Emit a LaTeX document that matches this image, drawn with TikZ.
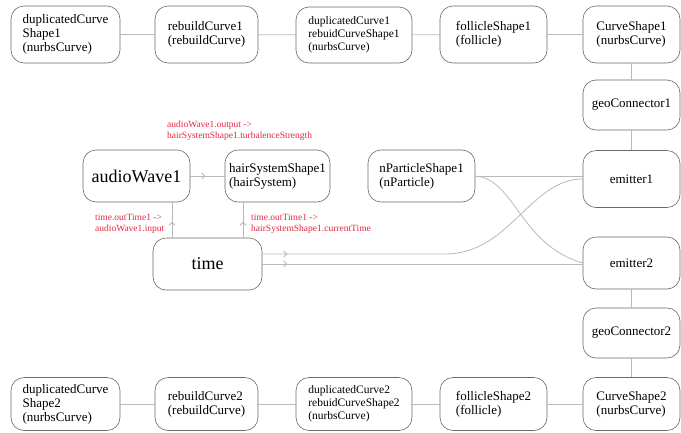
\documentclass[tikz,border=0pt]{standalone}
\usepackage{fontspec}
\setmainfont{Liberation Serif}
\usetikzlibrary{decorations.markings,arrows.meta}
\definecolor{lbl}{RGB}{226,40,62}
\definecolor{edge}{RGB}{185,185,185}
\definecolor{bord}{RGB}{105,105,105}
\tikzset{
  box/.style={draw=bord, line width=0.6pt, rounded corners=13pt, align=left, inner sep=1pt,
    font=\fontsize{13}{14}\selectfont},
  big/.style={font=\fontsize{18}{20}\selectfont},
  lnk/.style={draw=edge, line width=0.8pt},
  midarrow/.style={postaction={decorate,decoration={markings,
      mark=at position #1 with {\arrow[edge]{Straight Barb[length=3pt,width=6pt]}}}}},
  redlbl/.style={text=lbl, align=left, inner sep=0pt, anchor=north west,
    font=\fontsize{9.5}{11}\selectfont}
}
\begin{document}
\begin{tikzpicture}[x=1pt,y=-1pt]
\useasboundingbox (0,0) rectangle (681,432);
% top row
\node[box,minimum width=109pt,minimum height=57pt] (dcs1) at (65.5,34.5) {duplicatedCurve\\Shape1\\(nurbsCurve)};
\node[box,minimum width=103pt,minimum height=57pt] (rc1) at (206.5,34.5) {rebuildCurve1\\(rebuildCurve)};
\node[box,minimum width=116pt,minimum height=56pt,font=\fontsize{11.5}{13}\selectfont] (dc1) at (354,35) {duplicatedCurve1\\rebuidCurveShape1\\(nurbsCurve)};
\node[box,minimum width=107pt,minimum height=57pt] (fs1) at (493.5,34.5) {follicleShape1\\(follicle)};
\node[box,minimum width=97pt,minimum height=57pt] (cs1) at (631.5,34.5) {CurveShape1\\(nurbsCurve)};
% right column
\node[box,minimum width=97pt,minimum height=50pt] (gc1) at (631.5,105) {geoConnector1};
\node[box,minimum width=97pt,minimum height=57pt] (em1) at (631.5,179) {emitter1};
\node[box,minimum width=97pt,minimum height=52pt] (em2) at (631.5,263) {emitter2};
\node[box,minimum width=97pt,minimum height=50pt] (gc2) at (631.5,333) {geoConnector2};
% bottom row
\node[box,minimum width=109pt,minimum height=53pt] (dcs2) at (65.5,404) {duplicatedCurve\\Shape2\\(nurbsCurve)};
\node[box,minimum width=103pt,minimum height=53pt] (rc2) at (206.5,404) {rebuildCurve2\\(rebuildCurve)};
\node[box,minimum width=116pt,minimum height=53pt,font=\fontsize{11.5}{13}\selectfont] (dc2) at (354,404) {duplicatedCurve2\\rebuidCurveShape2\\(nurbsCurve)};
\node[box,minimum width=107pt,minimum height=53pt] (fs2) at (493.5,404) {follicleShape2\\(follicle)};
\node[box,minimum width=97pt,minimum height=53pt] (cs2) at (631.5,404) {CurveShape2\\(nurbsCurve)};
% middle
\node[box,big,minimum width=107pt,minimum height=52pt] (aw) at (136.5,176) {audioWave1};
\node[box,minimum width=105pt,minimum height=52pt] (hs) at (277.5,176) {hairSystemShape1\\(hairSystem)};
\node[box,minimum width=107pt,minimum height=52pt] (np) at (421.5,176) {nParticleShape1\\(nParticle)};
\node[box,big,minimum width=109pt,minimum height=52pt] (tm) at (207.5,264) {time};
% labels
\node[redlbl] (l1) at (167,121) {audioWave1.output ->\\hairSystemShape1.turbalenceStrength};
\node[redlbl] (l2) at (95,214) {time.outTime1 ->\\audioWave1.input};
\node[redlbl] (l3) at (251,214) {time.outTime1 ->\\hairSystemShape1.currentTime};
% chain links
\draw[lnk] (dcs1) -- (rc1);
\draw[lnk] (rc1) -- (dc1);
\draw[lnk] (dc1) -- (fs1);
\draw[lnk] (fs1) -- (cs1);
\draw[lnk] (cs1) -- (gc1);
\draw[lnk] (gc1) -- (em1);
\draw[lnk] (em2) -- (gc2);
\draw[lnk] (gc2) -- (cs2);
\draw[lnk] (dcs2) -- (rc2);
\draw[lnk] (rc2) -- (dc2);
\draw[lnk] (dc2) -- (fs2);
\draw[lnk] (fs2) -- (cs2);
% arrows
\draw[lnk,midarrow=15pt] (aw.east) -- (hs.west);
\draw[lnk,midarrow=16pt] (tm.north -| 172,0) -- (aw.south -| 172,0);
\draw[lnk,midarrow=16pt] (tm.north -| 243,0) -- (hs.south -| 243,0);
\draw[lnk,midarrow=25pt] ([yshift=10pt]tm.east) -- (445,254) .. controls (510,254) and (530,179) .. (em1.west);
\draw[lnk,midarrow=25pt] (tm.east) -- (tm.east -| em2.west);
\draw[lnk] (np.east) -- (np.east -| em1.west);
\draw[lnk] (np.east) .. controls (515,179) and (520,245) .. (em2.west);
\end{tikzpicture}
\end{document}
